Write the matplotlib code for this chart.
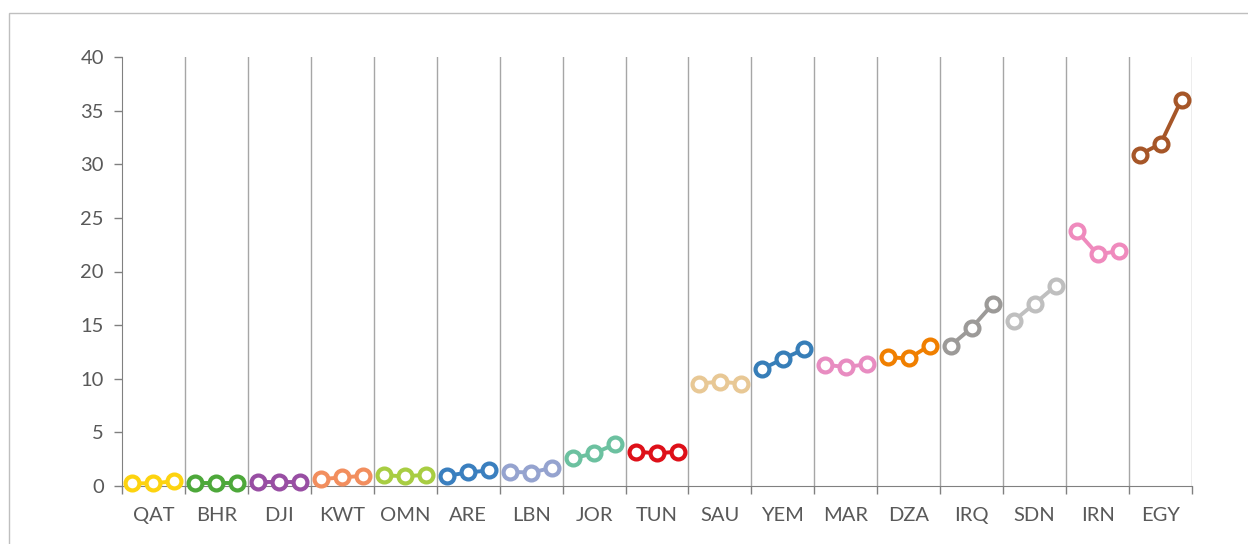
import numpy as np
import matplotlib.pyplot as plt
from matplotlib.patches import Rectangle

# Country codes (x categories)
countries = ["QAT", "BHR", "DJI", "KWT", "OMN", "ARE", "LBN", "JOR", "TUN",
             "SAU", "YEM", "MAR", "DZA", "IRQ", "SDN", "IRN", "EGY"]

# Three values per country
values = [
    [0.25, 0.25, 0.45],
    [0.3, 0.3, 0.3],
    [0.35, 0.35, 0.35],
    [0.65, 0.8, 0.95],
    [1.0, 0.9, 1.05],
    [0.95, 1.27, 1.45],
    [1.33, 1.25, 1.7],
    [2.58, 3.05, 3.9],
    [3.2, 3.05, 3.2],
    [9.55, 9.73, 9.55],
    [10.9, 11.85, 12.75],
    [11.3, 11.1, 11.35],
    [12.0, 11.9, 13.1],
    [13.1, 14.75, 16.95],
    [15.4, 17.0, 18.65],
    [23.8, 21.6, 21.9],
    [30.9, 31.9, 36.0],
]

colors = ["#FDD30F", "#4DA83A", "#984EA3", "#F28E5E", "#A8CD42", "#3A7FBF",
          "#95A3CF", "#6CC1A0", "#DE1019", "#E8C895", "#377EB8", "#E88CC1",
          "#F07F00", "#9C9A98", "#BFBFBF", "#EF8ABD", "#A65628"]

plt.rcParams["font.family"] = ["Lato", "DejaVu Sans"]

fig = plt.figure(figsize=(12.48, 5.44), dpi=100)
ax = fig.add_axes([122 / 1248, 58 / 544, 1070 / 1248, 429 / 544])

# chart area border
fig.patches.append(Rectangle((9 / 1248, -0.1), 1.2, (544 - 13) / 544 + 0.1,
                             transform=fig.transFigure, fill=False,
                             edgecolor="#BFBFBF", linewidth=1))

offsets = np.array([1 / 6, 1 / 2, 5 / 6])
for i, (vals, c) in enumerate(zip(values, colors)):
    ax.plot(i + offsets, vals, color=c, linewidth=2.8, marker="o",
            markersize=10, markerfacecolor="white", markeredgecolor=c,
            markeredgewidth=3, zorder=3, clip_on=False)

n = len(countries)
ax.set_xlim(0, n)
ax.set_ylim(0, 40)

# vertical separators between categories
for b in range(1, n + 1):
    ax.axvline(b, color="#A6A6A6", linewidth=1, zorder=1)

ax.set_xticks(np.arange(n + 1))
ax.set_xticklabels([])
ax.set_xticks(np.arange(n) + 0.5, minor=True)
ax.set_xticklabels(countries, minor=True)
ax.tick_params(axis="x", which="major", length=6, color="#808080", width=1)
ax.tick_params(axis="x", which="minor", length=0, pad=15,
               labelsize=14.5, labelcolor="#595959")

ax.set_yticks(np.arange(0, 41, 5))
ax.tick_params(axis="y", length=6, color="#808080", width=1, pad=7,
               labelsize=14.5, labelcolor="#595959")

for s in ["top", "right"]:
    ax.spines[s].set_visible(False)
ax.spines["left"].set_color("#808080")
ax.spines["bottom"].set_color("#808080")

fig.savefig("out.png", dpi=100)
